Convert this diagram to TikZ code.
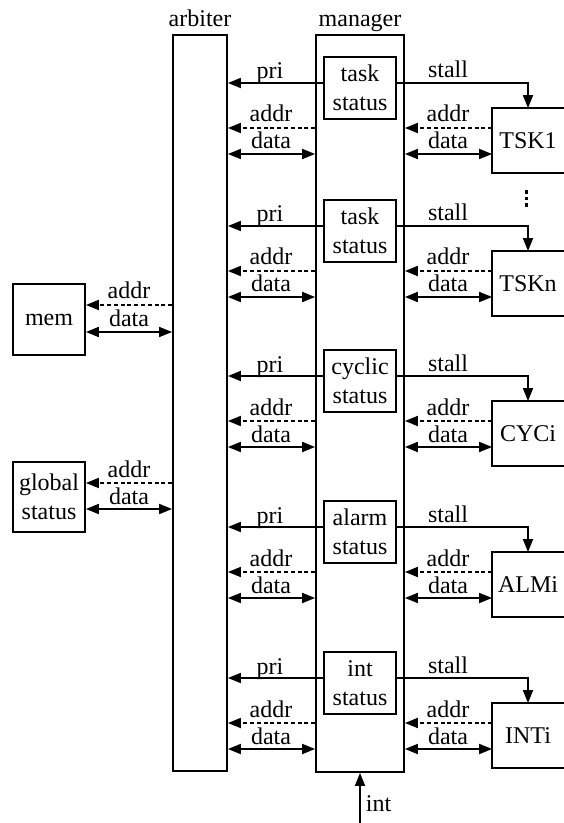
\documentclass[tikz,border=0pt]{standalone}
\usepackage{fontspec}
\setmainfont{Liberation Serif}
\usetikzlibrary{arrows.meta}
\begin{document}
\begin{tikzpicture}[x=0.5pt,y=-0.5pt,
  line width=0.9pt,
  >={Triangle[length=6.5pt,width=5pt]},
  every node/.style={font=\fontsize{12}{14.5}\selectfont},
  blk/.style={draw,rectangle,inner sep=0pt,align=center},
  unit/.style={rectangle,inner sep=0pt,minimum width=35pt,minimum height=31.5pt},
  lbl/.style={anchor=base,inner sep=0pt},
  addrline/.style={dash pattern=on 2pt off 1.4pt}]
\useasboundingbox (0,0) rectangle (563,823);

% main columns
\node[blk,minimum width=27pt,minimum height=368pt] (arb) at (200,403) {};
\node[blk,minimum width=44pt,minimum height=368.5pt] (mgr) at (360,403.5) {};
\node[lbl] (arbt) at (200,27) {arbiter};
\node[lbl] (mgrt) at (360,27) {manager};

% status blocks and the units they control
\foreach \i/\py/\st/\ex in {1/83/{task\\status}/TSK1,
                            2/226/{task\\status}/TSKn,
                            3/376/{cyclic\\status}/CYCi,
                            4/527/{alarm\\status}/ALMi,
                            5/678/{int\\status}/INTi}{
  \node[blk,minimum width=36pt,minimum height=31pt] (st\i) at (360,\py+5) {\st};
  \node[unit] (ex\i) at (528,\py+57.5) {\ex};
  % unit boxes run on past the right edge
  \draw ([xshift=4pt]ex\i.north east) -- (ex\i.north west) -- (ex\i.south west)
        -- ([xshift=4pt]ex\i.south east);
  \coordinate (p\i) at (0,\py);
  \coordinate (a\i) at (0,\py+45);
  \coordinate (d\i) at (0,\py+71);
  % priority to arbiter, stall to unit
  \draw[->] (st\i.west |- p\i) -- (arb.east |- p\i);
  \node[lbl] (pl\i) at (270,\py-4) {pri};
  \draw[->] (st\i.east |- p\i) -| (ex\i.north);
  \node[lbl] (sl\i) at (448,\py-5) {stall};
  % address buses
  \draw[->,addrline] (mgr.west |- a\i) -- (arb.east |- a\i);
  \node[lbl] (al\i) at (271,\py+39) {addr};
  \draw[->,addrline] (ex\i.west |- a\i) -- (mgr.east |- a\i);
  \node[lbl] (ar\i) at (448,\py+39) {addr};
  % data buses
  \draw[<->] (arb.east |- d\i) -- (mgr.west |- d\i);
  \node[lbl] (dl\i) at (271,\py+66) {data};
  \draw[<->] (mgr.east |- d\i) -- (ex\i.west |- d\i);
  \node[lbl] (dr\i) at (448,\py+66) {data};
}

% ellipsis between TSK1 and TSKn
\foreach \dy in {192,198.5,205}
  \fill (524.7,\dy-1.7) rectangle ++(3.4,3.4);

% memory and global status on the arbiter
\node[blk,minimum width=36pt,minimum height=35.5pt] (mem) at (49,319.5) {mem};
\node[blk,minimum width=36pt,minimum height=35pt] (glob) at (49,497) {global\\status};
\coordinate (ma) at (0,305);
\coordinate (md) at (0,332);
\coordinate (ga) at (0,483);
\coordinate (gd) at (0,509);
\draw[->,addrline] (arb.west |- ma) -- (mem.east |- ma);
\node[lbl] (mal) at (129,299) {addr};
\draw[<->] (mem.east |- md) -- (arb.west |- md);
\node[lbl] (mdl) at (129,327) {data};
\draw[->,addrline] (arb.west |- ga) -- (glob.east |- ga);
\node[lbl] (gal) at (129,477) {addr};
\draw[<->] (glob.east |- gd) -- (arb.west |- gd);
\node[lbl] (gdl) at (129,504) {data};

% interrupt input
\coordinate (intsrc) at (360,823);
\draw[->] (intsrc) -- (mgr.south);
\node[anchor=base west,inner sep=0pt] (intl) at (365,811) {int};
\end{tikzpicture}
\end{document}
